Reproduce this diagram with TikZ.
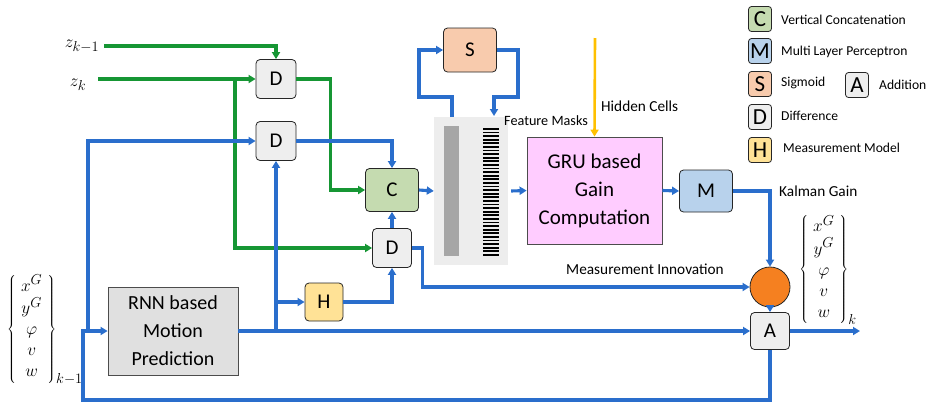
\documentclass[tikz,border=0pt]{standalone}
\usepackage{fontspec}
\setmainfont{Carlito}
\usetikzlibrary{arrows.meta,calc}
\definecolor{blueL}{RGB}{42,110,204}
\definecolor{greenL}{RGB}{22,150,52}
\definecolor{yelL}{RGB}{255,192,0}
\definecolor{dF}{RGB}{238,238,238}
\definecolor{cF}{RGB}{197,219,176}
\definecolor{sF}{RGB}{248,203,173}
\definecolor{mF}{RGB}{184,210,236}
\definecolor{hF}{RGB}{255,226,150}
\definecolor{gruF}{RGB}{255,204,255}
\definecolor{rnnF}{RGB}{224,224,224}
\definecolor{circF}{RGB}{245,128,32}
\begin{document}
\begin{tikzpicture}[x=1pt,y=-1pt,
  >={Triangle[length=7pt,width=8pt]},
  box/.style={draw=black!85, rounded corners=4pt, line width=0.8pt, inner sep=0pt,
    minimum width=40pt, minimum height=39pt, font=\fontsize{21}{21}\selectfont},
  leg/.style={draw=black!85, rounded corners=3pt, line width=0.8pt, inner sep=0pt,
    minimum width=23pt, minimum height=25pt, font=\fontsize{23}{23}\selectfont},
  bigbox/.style={draw=black!70, line width=0.8pt, inner sep=0pt, align=center,
    font=\fontsize{20}{28}\selectfont},
  bl/.style={draw=blueL, line width=3.1pt},
  gr/.style={draw=greenL, line width=3.1pt},
  lab/.style={font=\fontsize{15.3}{17}\selectfont, inner sep=0pt, anchor=west},
  legt/.style={font=\fontsize{13.6}{16}\selectfont, inner sep=0pt, anchor=west},
  vec/.style={inner sep=0pt, font=\fontsize{19}{21}\selectfont}
]
\useasboundingbox (0,0) rectangle (928,408);

% feature block
\node[fill=black!7, minimum width=74pt, minimum height=148pt, inner sep=0pt] (blk) at (471,191) {};
\node[fill=black!35, minimum width=15pt, minimum height=130pt, inner sep=0pt] (bar) at (451,191) {};
\node[minimum width=16pt, minimum height=130pt, inner sep=0pt] (mask) at (491,192) {};
\foreach \i in {0,...,35} {
  \fill[black] (483,{128+\i*3.6}) rectangle (499,{128+\i*3.6+1.8});
}

% main nodes
\node[box, fill=dF] (D1) at (276,79) {D};
\node[box, fill=dF] (D2) at (276,141) {D};
\node[box, fill=cF, minimum width=53pt, minimum height=43pt] (C) at (392,190) {C};
\node[box, fill=dF, minimum width=39pt] (D3) at (392,248) {D};
\node[box, fill=hF, minimum width=38pt, minimum height=38pt] (H) at (324,302) {H};
\node[bigbox, fill=rnnF, minimum width=130pt, minimum height=88pt] (RNN) at (173,331) {RNN based\\Motion\\Prediction};
\node[box, fill=sF, minimum width=53pt, minimum height=44pt] (S) at (470,50) {S};
\node[bigbox, fill=gruF, minimum width=135pt, minimum height=107pt, font=\fontsize{21}{28}\selectfont] (GRU) at (594.5,190.5) {GRU based\\Gain\\Computation};
\node[box, fill=mF, minimum width=53pt, minimum height=42pt] (M) at (706,191) {M};
\node[draw=black!85, line width=0.8pt, fill=circF, circle, minimum size=40pt, inner sep=0pt] (circ) at (770,287) {};
\node[box, fill=dF, minimum width=39pt, minimum height=37pt] (A) at (770,331) {A};

% inputs / labels
\node[inner sep=0pt, font=\fontsize{19}{19}\selectfont] (zkm1) at (82,46) {$z_{k-1}$};
\node[inner sep=0pt, font=\fontsize{19}{19}\selectfont] (zk) at (78,85) {$z_k$};
\coordinate (zkm1s) at (104,46);
\coordinate (zks) at (98,79);
\coordinate (zb) at (235,79);

\node[vec] (xin) at (45,330)
  {$\left\{\begin{array}{c} x^G\\ y^G\\ \varphi\\ v\\ w\end{array}\right\}_{k-1}$};
\node[vec] (xout) at (828,270)
  {$\left\{\begin{array}{c} x^G\\ y^G\\ \varphi\\ v\\ w\end{array}\right\}_{k}$};

\node[lab, font=\fontsize{14.2}{16}\selectfont] (fm) at (504,121) {Feature Masks};
\node[lab] (hc) at (601,106) {Hidden Cells};
\node[lab] (kg) at (779,191) {Kalman Gain};
\node[lab] (mi) at (566,269) {Measurement Innovation};

% green connectors
\draw[gr,->] (zkm1s) -| (D1.north);
\draw[gr,->] (zks) -- (D1.west);
\draw[gr,->] (zb) |- (D3.west);
\draw[gr,->] (D1.east) -- ++(34,0) |- (C.west);

% blue connectors
\coordinate (fbL) at (83,331);
\coordinate (inL) at (88,331);
\coordinate (j1) at (276,331);
\coordinate (j2) at (276,302);
\coordinate (bot) at (770,400);
\coordinate (outE) at (860,331);
\draw[bl,->] (D2.east) -| (C.north);
\draw[bl,->] (inL) |- (D2.west);
\draw[bl,->] (A.south) -- (bot) -| (fbL) -- (RNN.west);
\draw[bl,->] (RNN.east) -- (A.west);
\draw[bl,->] (j1) -- (D2.south);
\draw[bl,->] (j2) -- (H.west);
\draw[bl,->] (H.east) -| (D3.south);
\draw[bl,->] (D3.north) -- (C.south);
\draw[bl,->] (D3.east) -- ++(11,0) |- (circ.west);
\draw[bl,->] (C.east) -- (blk.west);
\draw[bl,->] (blk.east) ++(3,0) -- (GRU.west);
\coordinate (sl1) at (452,117);
\coordinate (sr1) at (494,116);
\draw[bl,->] (sl1) -- (452,97) -- (419,97) |- (S.west);
\draw[bl,->] (S.east) -| (518,97) -| (sr1);
\draw[draw=yelL, line width=2.6pt, ->] (595,38) -- (GRU.north);
\draw[bl,->] (GRU.east) -- (M.west);
\draw[bl,->] (M.east) -| (circ.north);
\draw[bl,->] (circ.south) -- (A.north);
\draw[bl,->] (A.east) -- (outE);

% legend
\node[leg, fill=cF] (lC) at (760,19) {C};
\node[leg, fill=mF] (lM) at (760,51) {M};
\node[leg, fill=sF] (lS) at (760,84) {S};
\node[leg, fill=dF] (lD) at (760,117) {D};
\node[leg, fill=hF] (lH) at (760,150) {H};
\node[leg, fill=dF] (lA) at (857,85) {A};
\node[legt] (tC) at (781,20) {Vertical Concatenation};
\node[legt] (tM) at (781,52) {Multi Layer Perceptron};
\node[legt] (tS) at (781,83) {Sigmoid};
\node[legt] (tA) at (879,85) {Addition};
\node[legt] (tD) at (781,116) {Difference};
\node[legt] (tH) at (783,148) {Measurement Model};
\end{tikzpicture}
\end{document}
